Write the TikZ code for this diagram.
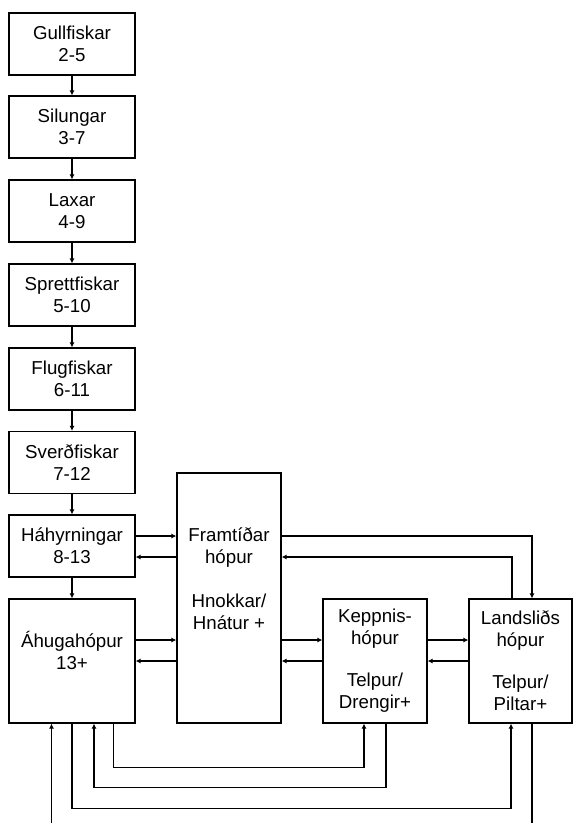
\documentclass[tikz,border=0pt]{standalone}
\usepackage{fontspec}
\setmainfont{Liberation Sans}
\usetikzlibrary{arrows.meta,positioning}

\begin{document}
\begin{tikzpicture}[
    x=1pt, y=-1pt,
    group/.style={draw, line width=1.2pt, align=center, minimum width=126pt, minimum height=62pt, inner sep=0pt, font=\fontsize{18.7}{22}\selectfont},
    team/.style={draw, line width=1.2pt, align=center, minimum width=104pt, minimum height=124pt, inner sep=0pt, font=\fontsize{18.7}{22}\selectfont},
    arrow/.style={-{Latex[length=5pt,width=5pt]}, line width=1.2pt}
  ]
    \clip (0,0) rectangle (573,823);

    % age groups, left column
    \node[group] (gull)  at (72,44)    {Gullfiskar\\2-5};
    \node[group] (sil)   at (72,127)   {Silungar\\3-7};
    \node[group] (lax)   at (72,211)   {Laxar\\4-9};
    \node[group] (spr)   at (72,295)   {Sprettfiskar\\5-10};
    \node[group] (flug)  at (72,379)   {Flugfiskar\\6-11};
    \node[group] (sverd) at (72,462.5) {Sverðfiskar\\7-12};
    \node[group] (hah)   at (72,546)   {Háhyrningar\\8-13};
    \node[group, minimum height=124pt] (ahug) at (72,661) {Áhugahópur\\13+\\\mbox{}};

    % competition groups
    \node[team, minimum height=250pt] (fram) at (229,598) {Framtíðar\\hópur\\[22pt]Hnokkar/\\Hnátur +\\[16pt]\mbox{}};
    \node[team] (kepp)  at (375,661)   {Keppnis-\\hópur\\[20pt]Telpur/\\Drengir+};
    \node[team, minimum width=103pt] (lands) at (520.5,661) {Landsliðs\\hópur\\[20pt]Telpur/\\Piltar+};

    \foreach \a/\b in {gull/sil, sil/lax, lax/spr, spr/flug, flug/sverd, sverd/hah, hah/ahug}
      \draw[arrow] (\a) -- (\b);

    \draw[arrow] ([yshift=10pt]hah.east) -- ([yshift=10pt]hah.east -| fram.west);
    \draw[arrow] ([yshift=-11pt]hah.east -| fram.west) -- ([yshift=-11pt]hah.east);
    \draw[arrow] ([yshift=21pt]ahug.east) -- ([yshift=21pt]ahug.east -| fram.west);
    \draw[arrow] (ahug.east -| fram.west) -- (ahug.east);
    \draw[arrow] ([yshift=21pt]kepp.west -| fram.east) -- ([yshift=21pt]kepp.west);
    \draw[arrow] (kepp.west) -- (kepp.west -| fram.east);
    \draw[arrow] ([yshift=21pt]kepp.east) -- ([yshift=21pt]lands.west);
    \draw[arrow] (lands.west) -- (kepp.east);

    \draw[arrow] ([yshift=10pt]hah.east -| fram.east) -| ([xshift=11.5pt]lands.north);
    \draw[arrow] ([xshift=-8.5pt]lands.north) |- ([yshift=-11pt]hah.east -| fram.east);

    % loops under the boxes
    \draw[arrow] ([xshift=41.5pt]ahug.south) -- ++(0,44) -| ([xshift=-11pt]kepp.south);
    \draw[arrow] ([xshift=11pt]kepp.south) -- ++(0,64) -| ([xshift=22pt]ahug.south);
    \draw[arrow] (ahug.south) -- ++(0,85) -| ([xshift=-9.5pt]lands.south);
    \draw[arrow] ([xshift=11.5pt]lands.south) -- ++(0,110) -| ([xshift=-20.5pt]ahug.south);
  \end{tikzpicture}
\end{document}
